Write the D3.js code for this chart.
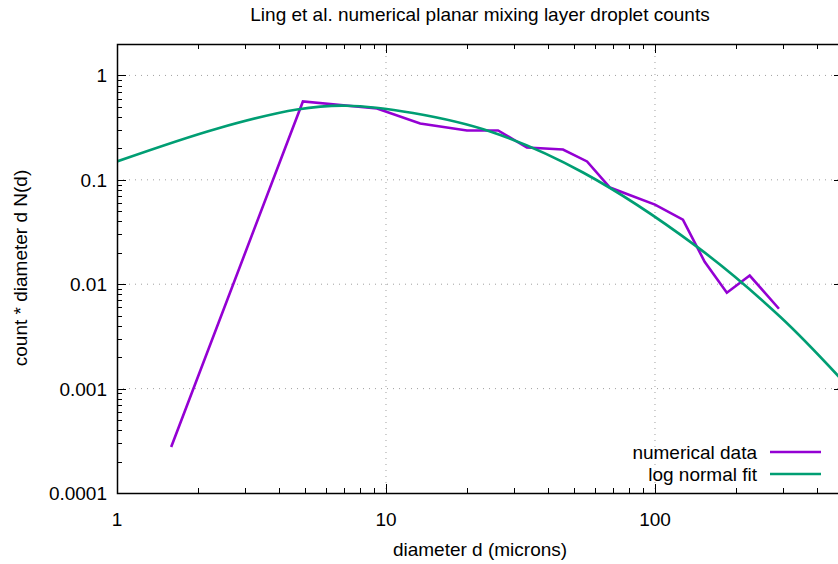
<!DOCTYPE html>
<html>
<head>
<meta charset="utf-8">
<script src="https://cdn.jsdelivr.net/npm/d3@7"></script>
<style>
  body { margin: 0; background: #fff; }
  text { font-family: "Liberation Sans", Arial, sans-serif; fill: #000; }
</style>
</head>
<body>
<svg id="chart" width="838" height="564"></svg>
<script>
"use strict";

// numerical data (diameter in microns, count * d N(d))
const dataDiam  = [1.59, 4.91, 9.26, 13.4, 20.0, 26.1, 33.4, 45.5, 55.9, 68.0, 100, 127, 153, 185, 225, 289];
const dataCount = [2.76e-4, 0.563, 0.483, 0.346, 0.297, 0.297, 0.204, 0.195, 0.150, 0.0843, 0.0579, 0.0416, 0.0164, 0.00829, 0.0121, 0.00582];

// log normal fit
const fitDiam  = [1, 2.35, 4.67, 7.08, 12.6, 24.4, 54.0, 143, 292, 500];
const fitCount = [0.150, 0.309, 0.472, 0.513, 0.436, 0.290, 0.1175, 0.0229, 0.00488, 0.00118];

const xTicks = [1, 10, 100];
const yTicks = [1, 0.1, 0.01, 0.001, 0.0001];
const yTickLabels = ["1", "0.1", "0.01", "0.001", "0.0001"];
const seriesNames = ["numerical data", "log normal fit"];
const seriesColors = ["#9400d3", "#009e73"];

const svg = d3.select("#chart");
const mLeft = 117, mRight = 843, mTop = 44, mBottom = 493;

const x = d3.scaleLog().domain([1, 500]).range([mLeft, mRight]);
const y = d3.scaleLog().domain([1e-4, 2]).range([mBottom, mTop]);

const fontSize = 19;

// grid
const grid = svg.append("g")
    .attr("stroke", "#a0a0a0")
    .attr("stroke-width", 1)
    .attr("stroke-dasharray", "1,5");
xTicks.slice(1).forEach(t => {
  grid.append("line")
      .attr("x1", x(t)).attr("x2", x(t))
      .attr("y1", mTop).attr("y2", mBottom);
});
yTicks.slice(0, -1).forEach(t => {
  grid.append("line")
      .attr("x1", mLeft).attr("x2", mRight)
      .attr("y1", y(t)).attr("y2", y(t));
});

// ticks (inward, mirrored)
const minorX = [];
for (let dec = 1; dec < 1000; dec *= 10)
  for (let m = 2; m <= 9; m++) if (dec * m <= 500) minorX.push(dec * m);
const minorY = [];
for (let dec = 1e-4; dec < 2; dec *= 10)
  for (let m = 2; m <= 9; m++) if (dec * m <= 2) minorY.push(dec * m);

const ticks = svg.append("g").attr("stroke", "#000").attr("stroke-width", 1);
const tick = (x1, y1, x2, y2) => ticks.append("line")
    .attr("x1", x1).attr("y1", y1).attr("x2", x2).attr("y2", y2);

xTicks.forEach(t => {
  const px = Math.round(x(t)) + 0.5;
  tick(px, mBottom, px, mBottom - 9);
  tick(px, mTop, px, mTop + 9);
});
minorX.forEach(t => {
  const px = Math.round(x(t)) + 0.5;
  tick(px, mBottom, px, mBottom - 5);
  tick(px, mTop, px, mTop + 5);
});
yTicks.forEach(t => {
  const py = Math.round(y(t)) + 0.5;
  tick(mLeft, py, mLeft + 9, py);
  tick(mRight, py, mRight - 9, py);
});
minorY.forEach(t => {
  const py = Math.round(y(t)) + 0.5;
  tick(mLeft, py, mLeft + 5, py);
  tick(mRight, py, mRight - 5, py);
});

// series
const line = d3.line()
    .x(d => x(d[0]))
    .y(d => y(d[1]));

svg.append("defs").append("clipPath").attr("id", "clip")
  .append("rect").attr("x", mLeft).attr("y", mTop)
    .attr("width", mRight - mLeft).attr("height", mBottom - mTop);

const plot = svg.append("g").attr("clip-path", "url(#clip)");

plot.append("path")
    .datum(dataDiam.map((d, i) => [d, dataCount[i]]))
    .attr("fill", "none")
    .attr("stroke", seriesColors[0])
    .attr("stroke-width", 2.6)
    .attr("stroke-linejoin", "miter")
    .attr("d", line);

plot.append("path")
    .datum(fitDiam.map((d, i) => [d, fitCount[i]]))
    .attr("fill", "none")
    .attr("stroke", seriesColors[1])
    .attr("stroke-width", 2.6)
    .attr("d", line.curve(d3.curveCatmullRom));

// border
svg.append("rect")
    .attr("x", mLeft + 0.5).attr("y", mTop + 0.5)
    .attr("width", mRight - mLeft).attr("height", mBottom - mTop)
    .attr("fill", "none").attr("stroke", "#000").attr("stroke-width", 1.5);

// tick labels
svg.append("g").selectAll("text")
    .data(xTicks)
  .enter().append("text")
    .attr("x", d => x(d))
    .attr("y", 526)
    .attr("text-anchor", "middle")
    .attr("font-size", fontSize)
    .text(d => d);

svg.append("g").selectAll("text")
    .data(yTicks)
  .enter().append("text")
    .attr("x", 107)
    .attr("y", d => y(d) + 7)
    .attr("text-anchor", "end")
    .attr("font-size", fontSize)
    .text((d, i) => yTickLabels[i]);

// titles
svg.append("text")
    .attr("x", 480).attr("y", 21)
    .attr("text-anchor", "middle")
    .attr("font-size", fontSize)
    .text("Ling et al. numerical planar mixing layer droplet counts");

svg.append("text")
    .attr("x", 480).attr("y", 556)
    .attr("text-anchor", "middle")
    .attr("font-size", fontSize)
    .text("diameter d (microns)");

svg.append("text")
    .attr("transform", "translate(27,268) rotate(-90)")
    .attr("text-anchor", "middle")
    .attr("font-size", fontSize)
    .text("count * diameter d N(d)");

// legend
const legend = svg.append("g");
seriesNames.forEach((name, i) => {
  const ly = 452 + i * 22;
  legend.append("text")
      .attr("x", 757).attr("y", ly + 7)
      .attr("text-anchor", "end")
      .attr("font-size", fontSize)
      .text(name);
  legend.append("line")
      .attr("x1", 770).attr("x2", 821)
      .attr("y1", ly).attr("y2", ly)
      .attr("stroke", seriesColors[i])
      .attr("stroke-width", 2.6);
});
</script>
</body>
</html>
